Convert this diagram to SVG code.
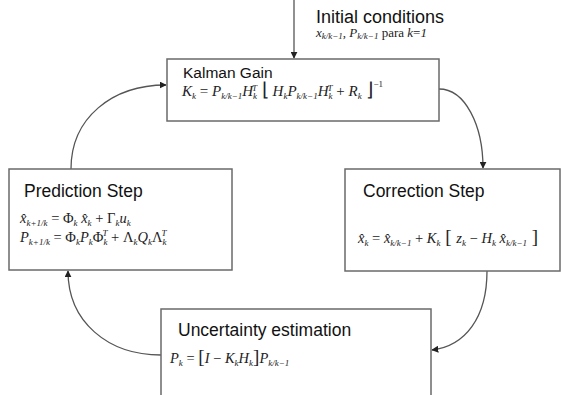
<svg xmlns="http://www.w3.org/2000/svg" width="561" height="395" viewBox="0 0 561 395">
<style>
.box{fill:#fff;stroke:#6a6a6a;stroke-width:1.5}
.con{fill:none;stroke:#555;stroke-width:1.3}
.t{font-family:"Liberation Sans",Arial,sans-serif;font-size:17.5px;fill:#111}
.m{font-family:"Liberation Serif","Times New Roman",serif;font-style:italic;font-size:14.5px;fill:#222}
.u{font-style:normal}
.s{font-size:9px}
.b{font-style:normal;font-size:19px}
</style>
<defs>
<marker id="ah" viewBox="0 0 10 10" refX="9" refY="5" markerWidth="7" markerHeight="7" orient="auto" markerUnits="userSpaceOnUse">
<path d="M0,0 L10,5 L0,10 Z" fill="#222"/>
</marker>
</defs>
<rect width="561" height="395" fill="#fff"/>

<g id="connectors">
<path class="con" d="M294,0 L294,58" marker-end="url(#ah)"/>
<path class="con" d="M439,89 C465,89 483,125 483,168" marker-end="url(#ah)"/>
<path class="con" d="M487,271 C487,318 465,346 432,350" marker-end="url(#ah)"/>
<path class="con" d="M161,355 C108,355 68,322 68,271" marker-end="url(#ah)"/>
<path class="con" d="M71,169 C71,118 112,85 166,85" marker-end="url(#ah)"/>
</g>

<g id="initial">
<text class="t" x="316" y="23" style="font-size:18px">Initial conditions</text>
<text class="m" x="316" y="37" style="font-size:13px">x<tspan class="s" dy="2">k/k−1</tspan><tspan class="u" dy="-2">, </tspan>P<tspan class="s" dy="2">k/k−1</tspan><tspan class="u" dy="-2"> para </tspan>k<tspan class="u">=</tspan>1</text>
</g>

<g id="kalman">
<rect class="box" x="167" y="59" width="272" height="62"/>
<text class="t" x="183" y="78" style="font-size:15.5px">Kalman  Gain</text>
<text class="m" x="182" y="96" style="font-size:15px">K<tspan class="s" dy="3">k</tspan><tspan class="u" dy="-3"> = </tspan>P<tspan class="s" dy="3">k/k−1</tspan><tspan dy="-3">H</tspan><tspan class="s" dy="3">k</tspan><tspan class="s" dx="-5" dy="-8">T</tspan><tspan class="b" dy="5"> ⌊</tspan><tspan dy="0"> H</tspan><tspan class="s" dy="3">k</tspan><tspan dy="-3">P</tspan><tspan class="s" dy="3">k/k−1</tspan><tspan dy="-3">H</tspan><tspan class="s" dy="3">k</tspan><tspan class="s" dx="-5" dy="-8">T</tspan><tspan class="u" dy="5"> + </tspan>R<tspan class="s" dy="3">k</tspan><tspan class="b" dy="-3"> ⌋</tspan><tspan class="s u" dy="-9">−1</tspan></text>
</g>

<g id="prediction">
<rect class="box" x="9" y="169" width="223" height="101"/>
<text class="t" x="24" y="197">Prediction Step</text>
<text class="m" x="20" y="223">x̂<tspan class="s" dy="3">k+1/k</tspan><tspan class="u" dy="-3"> = Φ</tspan><tspan class="s" dy="3">k</tspan><tspan dy="-3"> x̂</tspan><tspan class="s" dy="3">k</tspan><tspan class="u" dy="-3"> + Γ</tspan><tspan class="s" dy="3">k</tspan><tspan dy="-3">u</tspan><tspan class="s" dy="3">k</tspan></text>
<text class="m" x="20" y="242">P<tspan class="s" dy="3">k+1/k</tspan><tspan class="u" dy="-3"> = Φ</tspan><tspan class="s" dy="3">k</tspan><tspan dy="-3">P</tspan><tspan class="s" dy="3">k</tspan><tspan class="u" dy="-3">Φ</tspan><tspan class="s" dy="3">k</tspan><tspan class="s" dx="-5" dy="-9">T</tspan><tspan class="u" dy="6"> + Λ</tspan><tspan class="s" dy="3">k</tspan><tspan dy="-3">Q</tspan><tspan class="s" dy="3">k</tspan><tspan class="u" dy="-3">Λ</tspan><tspan class="s" dy="3">k</tspan><tspan class="s" dx="-5" dy="-9">T</tspan></text>
</g>

<g id="correction">
<rect class="box" x="345" y="169" width="215" height="102"/>
<text class="t" x="363" y="197">Correction Step</text>
<text class="m" x="358" y="243">x̂<tspan class="s" dy="3">k</tspan><tspan class="u" dy="-3"> = </tspan>x̂<tspan class="s" dy="3">k/k−1</tspan><tspan class="u" dy="-3"> + </tspan>K<tspan class="s" dy="3">k</tspan><tspan class="b" dy="-3"> [ </tspan>z<tspan class="s" dy="3">k</tspan><tspan class="u" dy="-3"> − </tspan>H<tspan class="s" dy="3">k</tspan><tspan dy="-3"> x̂</tspan><tspan class="s" dy="3">k/k−1</tspan><tspan class="b" dy="-3"> ]</tspan></text>
</g>

<g id="uncertainty">
<rect class="box" x="161" y="309" width="270" height="100"/>
<text class="t" x="178" y="336">Uncertainty estimation</text>
<text class="m" x="170" y="363">P<tspan class="s" dy="3">k</tspan><tspan class="u" dy="-3"> = </tspan><tspan class="b">[</tspan>I<tspan class="u"> − </tspan>K<tspan class="s" dy="3">k</tspan><tspan dy="-3">H</tspan><tspan class="s" dy="3">k</tspan><tspan class="b" dy="-3">]</tspan>P<tspan class="s" dy="3">k/k−1</tspan></text>
</g>
</svg>
